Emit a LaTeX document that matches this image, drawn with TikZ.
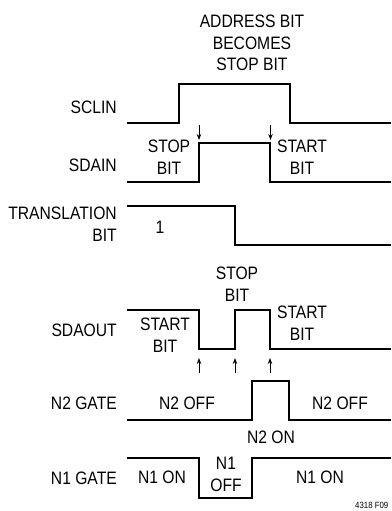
\documentclass[tikz,border=0pt]{standalone}
\usepackage{fontspec}
\setmainfont{Liberation Sans}[FakeStretch=0.87]
\usetikzlibrary{arrows.meta}

\begin{document}
\begin{tikzpicture}[x=1pt,y=-1pt,
  lbl/.style={font=\fontsize{18}{21.5}\selectfont,inner sep=0pt,align=center},
  signame/.style={lbl,anchor=east,align=right},
  wave/.style={line width=2.8pt,line join=miter},
  tick/.style={-{Stealth[length=6pt,width=4.5pt]},line width=0.9pt}
]
\useasboundingbox (0,0) rectangle (391,511);

% title
\node[lbl] (title) at (252,43) {ADDRESS BIT\\BECOMES\\STOP BIT};

% signal names
\node[signame] (sclin) at (117,107) {SCLIN};
\node[signame] (sdain) at (117,165) {SDAIN};
\node[signame] (trans) at (117,224) {TRANSLATION\\BIT};
\node[signame] (sdaout) at (117,330) {SDAOUT};
\node[signame] (ntwo) at (117,403) {N2 GATE};
\node[signame] (none) at (117,478) {N1 GATE};

% waveforms
\draw[wave] (127,123) -- (179,123) -- (179,84) -- (290,84) -- (290,123) -- (391,123);
\draw[wave] (127,182) -- (199,182) -- (199,143) -- (270,143) -- (270,182) -- (391,182);
\draw[wave] (127,206) -- (235,206) -- (235,245) -- (391,245);
\draw[wave] (127,310) -- (199,310) -- (199,349) -- (235,349) -- (235,310) -- (270,310) -- (270,349) -- (391,349);
\draw[wave] (127,420) -- (252,420) -- (252,381) -- (289,381) -- (289,420) -- (391,420);
\draw[wave] (127,458) -- (199,458) -- (199,498) -- (252,498) -- (252,458) -- (391,458);

% edge markers
\coordinate (d1) at (199,125);
\coordinate (d1e) at (199,140);
\coordinate (d2) at (270.5,125);
\coordinate (d2e) at (270.5,140);
\draw[tick] (d1) -- (d1e);
\draw[tick] (d2) -- (d2e);
\foreach \x/\n in {199/u1,235/u2,270/u3} {
  \coordinate (\n) at (\x,373);
  \coordinate (\n e) at (\x,358);
  \draw[tick] (\n) -- (\n e);
}

% SDAIN labels
\node[lbl] (instop) at (169,157) {STOP\\BIT};
\node[lbl] (instart) at (302,157) {START\\BIT};

% translation bit
\node[lbl] (one) at (160,227) {1};

% SDAOUT labels
\node[lbl] (outstop) at (237,284) {STOP\\BIT};
\node[lbl] (outstartl) at (165,335) {START\\BIT};
\node[lbl] (outstartr) at (302,323) {START\\BIT};

% gate labels
\node[lbl] (ntwooffl) at (187,403) {N2 OFF};
\node[lbl] (ntwooffr) at (340,403) {N2 OFF};
\node[lbl] (ntwoon) at (271,437) {N2 ON};
\node[lbl] (noneonl) at (162,477) {N1 ON};
\node[lbl] (noneoff) at (226,474.5) {N1\\OFF};
\node[lbl] (noneonr) at (320,477) {N1 ON};

\node[anchor=west,inner sep=0pt,font=\fontsize{9}{10}\selectfont] (fig) at (355,505) {4318 F09};
\end{tikzpicture}
\end{document}
